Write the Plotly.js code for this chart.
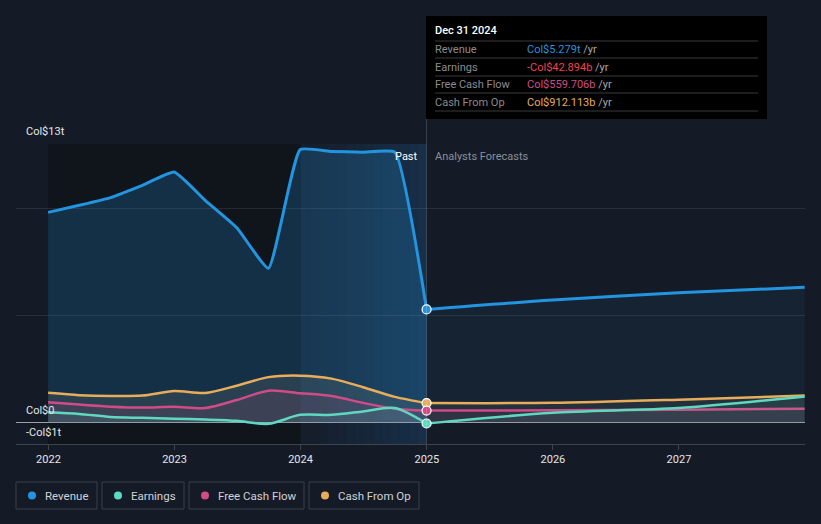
<!DOCTYPE html>
<html>
<head>
<meta charset="utf-8">
<script src="https://cdn.plot.ly/plotly-3.0.1.min.js"></script>
<style>
  html, body { margin: 0; padding: 0; background: #151b26; }
  #chart { width: 821px; height: 524px; }
</style>
</head>
<body>
<div id="chart"></div>
<script>
// ---- data (values in Col$ trillions) ----
const pastDates = ['2021-12-31','2022-03-31','2022-06-30','2022-09-30','2022-12-31','2023-03-31','2023-06-30','2023-09-30','2023-12-31','2024-03-31','2024-06-30','2024-09-30','2024-12-31'];
const revenuePast  = [9.81, 10.14, 10.5, 11.07, 11.69, 10.37, 9.1, 7.2, 12.74, 12.65, 12.62, 12.62, 5.279];
const earningsPast = [0.48, 0.40, 0.26, 0.22, 0.18, 0.14, 0.08, -0.06, 0.36, 0.36, 0.52, 0.68, -0.043];
const fcfPast      = [0.95, 0.84, 0.74, 0.70, 0.74, 0.68, 1.05, 1.49, 1.37, 1.24, 0.92, 0.65, 0.56];
const cfoPast      = [1.39, 1.28, 1.24, 1.26, 1.47, 1.38, 1.72, 2.12, 2.19, 2.05, 1.65, 1.20, 0.912];

const fcDates = ['2024-12-31','2025-12-31','2026-12-31','2027-12-31'];
const revenueFc  = [5.279, 5.72, 6.06, 6.31];
const earningsFc = [-0.043, 0.46, 0.68, 1.22];
const fcfFc      = [0.56, 0.57, 0.60, 0.65];
const cfoFc      = [0.912, 0.92, 1.07, 1.26];

const yearTicks = ['2022-01-01','2023-01-01','2024-01-01','2025-01-01','2026-01-01','2027-01-01'];
const yearLabels = ['2022','2023','2024','2025','2026','2027'];

const seriesNames = ['Revenue','Earnings','Free Cash Flow','Cash From Op'];
const tooltipValues = ['Col$5.279t','-Col$42.894b','Col$559.706b','Col$912.113b'];
const tooltipDate = 'Dec 31 2024';

// ---- style ----
const C = { rev:'#2394df', earn:'#5fd8c2', fcf:'#d04c86', cfo:'#e8ad5a' };
const legendColors = [C.rev, C.earn, C.fcf, C.cfo];
const tooltipColors = ['#2394df', '#f0424f', '#d04c86', '#e8ad5a'];

// pixel -> paper helpers (plot area: x 16..805, y 144..444)
const L = 16, R = 805, T = 144, B = 444;
const px = x => (x - L) / (R - L);
const py = y => (B - y) / (B - T);

function line(x, y, color, fillcolor, width, smoothing) {
  return { x, y, type:'scatter', mode:'lines',
           line:{color, width: width||2.5, shape:'spline', smoothing: smoothing==null ? 0.8 : smoothing},
           fill:'tozeroy', fillcolor, hoverinfo:'skip', showlegend:false };
}

const lastIdx = pastDates.length - 1;
const traces = [
  line(pastDates, revenuePast, C.rev, 'rgba(35,148,223,0.22)', 3, 0.4),
  line(fcDates, revenueFc, C.rev, 'rgba(35,148,223,0.07)', 3),
  line(pastDates, cfoPast, C.cfo, 'rgba(180,175,150,0.13)'),
  line(fcDates, cfoFc, C.cfo, 'rgba(180,175,150,0.10)'),
  line(pastDates, fcfPast, C.fcf, 'rgba(208,76,134,0.12)'),
  line(fcDates, fcfFc, C.fcf, 'rgba(208,76,134,0.08)'),
  line(pastDates, earningsPast, C.earn, 'rgba(95,216,194,0.10)'),
  line(fcDates, earningsFc, C.earn, 'rgba(95,216,194,0.08)'),
  { x:[pastDates[lastIdx],pastDates[lastIdx],pastDates[lastIdx],pastDates[lastIdx]],
    y:[revenuePast[lastIdx], cfoPast[lastIdx], fcfPast[lastIdx], earningsPast[lastIdx]],
    type:'scatter', mode:'markers', hoverinfo:'skip', showlegend:false,
    marker:{size:9, color:[C.rev, C.cfo, C.fcf, C.earn], line:{color:'#ffffff', width:1.2}} }
];

const shapes = [
  { type:'rect', xref:'x', yref:'paper', x0:pastDates[0], x1:'2024-01-01', y0:0, y1:1,
    fillcolor:'#10141b', line:{width:0}, layer:'below' },
  { type:'line', xref:'x', yref:'paper', x0:'2024-12-31', x1:'2024-12-31', y0:0, y1:py(119),
    line:{color:'rgba(255,255,255,0.16)', width:1} },
  // tooltip box
  { type:'rect', xref:'paper', yref:'paper', x0:px(426), x1:px(767), y0:py(119), y1:py(16),
    fillcolor:'#000000', line:{width:0} }
];
// gradient highlight band for the last year of the past
const bandStart = Date.parse('2024-01-01'), bandEnd = Date.parse('2024-12-31');
const nStrips = 14;
for (let i = 0; i < nStrips; i++) {
  const a = bandStart + (bandEnd - bandStart) * i / nStrips;
  const b = bandStart + (bandEnd - bandStart) * (i + 1) / nStrips;
  const alpha = 0.03 + 0.19 * (i / (nStrips - 1));
  shapes.push({ type:'rect', xref:'x', yref:'paper', x0:new Date(a).toISOString(), x1:new Date(b).toISOString(),
    y0:0, y1:1, fillcolor:'rgba(35,120,190,' + alpha.toFixed(3) + ')', line:{width:0}, layer:'below' });
}
const sepY = [41, 58, 76, 93, 111];
sepY.forEach(y => shapes.push({ type:'line', xref:'paper', yref:'paper', x0:px(435), x1:px(758), y0:py(y), y1:py(y),
  line:{color:'#3a3a3a', width:1} }));

const font = 'Roboto, "Open Sans", sans-serif';
const annotations = [
  { text:'Col$13t', x:px(24), y:py(131), xanchor:'left', yanchor:'middle' },
  { text:'Col$0', x:px(24), y:py(410), xanchor:'left', yanchor:'middle' },
  { text:'-Col$1t', x:px(24), y:py(432), xanchor:'left', yanchor:'middle' },
].map(a => Object.assign(a, { xref:'paper', yref:'paper', showarrow:false, font:{family:font, size:11, color:'#e6e6e6'} }));

annotations.push({ text:'Past', xref:'x', yref:'paper', x:'2024-12-31', xanchor:'right', xshift:-7, y:py(156), yanchor:'middle',
  showarrow:false, font:{family:font, size:11, color:'#ffffff'} });
annotations.push({ text:'Analysts Forecasts', xref:'x', yref:'paper', x:'2024-12-31', xanchor:'left', xshift:6, y:py(156), yanchor:'middle',
  showarrow:false, font:{family:font, size:11, color:'#8a8f98'} });

// tooltip texts
annotations.push({ text:tooltipDate, xref:'paper', yref:'paper', x:px(433), y:py(31), xanchor:'left', yanchor:'middle',
  showarrow:false, font:{family:font, size:11, color:'#ffffff', weight:500} });
const rowY = [49, 67, 84, 102];
seriesNames.forEach((n, i) => {
  annotations.push({ text:n, xref:'paper', yref:'paper', x:px(433), y:py(rowY[i]), xanchor:'left', yanchor:'middle',
    showarrow:false, font:{family:font, size:11, color:'#8c8c8c'} });
  annotations.push({ text:'<span style="color:'+tooltipColors[i]+'">'+tooltipValues[i]+'</span> /yr', xref:'paper', yref:'paper',
    x:px(525), y:py(rowY[i]), xanchor:'left', yanchor:'middle',
    showarrow:false, font:{family:font, size:11, color:'#a8a8a8'} });
});

// custom legend boxes
const legBoxes = [[16,97],[102,184],[189,304],[309,419]];
seriesNames.forEach((n, i) => {
  const [x0, x1] = legBoxes[i];
  shapes.push({ type:'rect', xref:'paper', yref:'paper', x0:px(x0), x1:px(x1), y0:py(509), y1:py(482),
    line:{color:'#3a404b', width:1}, fillcolor:'rgba(0,0,0,0)' });
  shapes.push({ type:'circle', xref:'paper', yref:'paper', x0:px(x0+12), x1:px(x0+20), y0:py(499.5), y1:py(491.5),
    line:{width:0}, fillcolor:legendColors[i] });
  annotations.push({ text:n, xref:'paper', yref:'paper', x:px(x0+27), y:py(495.5), xanchor:'left', yanchor:'middle',
    showarrow:false, font:{family:font, size:11.5, color:'#d0d3d8'} });
});

const layout = {
  width:821, height:524,
  margin:{l:L, r:821-R, t:T, b:524-B},
  paper_bgcolor:'#151b26', plot_bgcolor:'#151b26',
  showlegend:false,
  xaxis:{ type:'date', range:['2021-09-29','2028-01-01'], tickvals:yearTicks, ticktext:yearLabels,
    showgrid:false, zeroline:false, showline:true, linecolor:'#3e444f', linewidth:1,
    ticks:'outside', ticklen:5, tickcolor:'#3e444f', tickfont:{family:font, size:11, color:'#e6e6e6'} },
  yaxis:{ range:[-1, 13], tickvals:[5, 10, 13], showticklabels:false, gridcolor:'rgba(255,255,255,0.09)', gridwidth:1,
    zeroline:true, zerolinecolor:'#9aa0a8', zerolinewidth:1, showline:false, fixedrange:true },
  shapes, annotations,
  hovermode:false
};

Plotly.newPlot('chart', traces, layout, {displayModeBar:false, staticPlot:true});
</script>
</body>
</html>
